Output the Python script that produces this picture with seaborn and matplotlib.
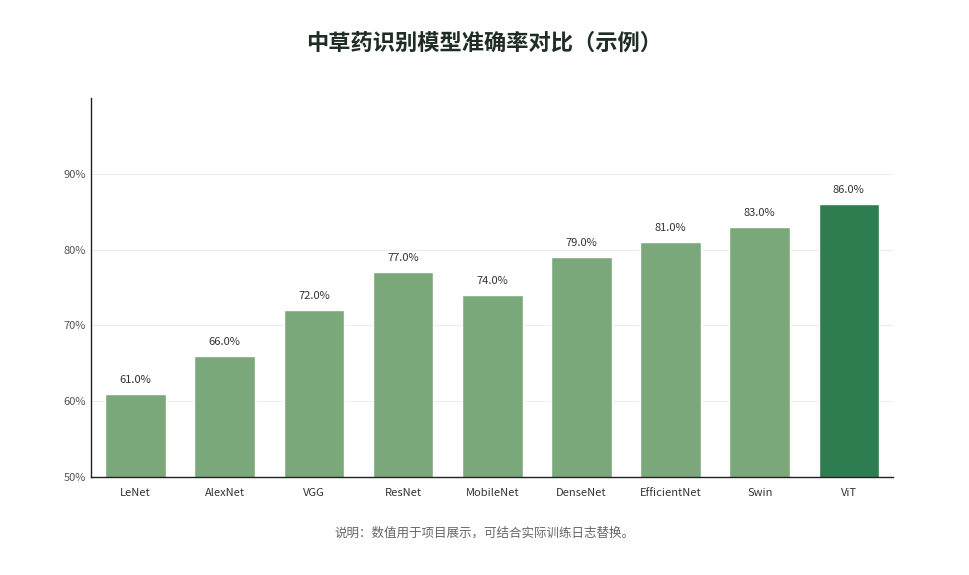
import matplotlib
matplotlib.use('Agg')
import pandas as pd
import seaborn as sns
from matplotlib import pyplot as plt

models = ['LeNet', 'AlexNet', 'VGG', 'ResNet', 'MobileNet', 'DenseNet',
          'EfficientNet', 'Swin', 'ViT']
accuracy = [61.0, 66.0, 72.0, 77.0, 74.0, 79.0, 81.0, 83.0, 86.0]
yticks = [50, 60, 70, 80, 90]

sns.set_style('white')
plt.rcParams['font.family'] = ['Noto Sans CJK SC', 'DejaVu Sans']

df = pd.DataFrame({'model': models, 'acc': accuracy})
colors = ['#7aa87a'] * (len(models) - 1) + ['#2e7d50']

fig = plt.figure(figsize=(9.69, 5.75), dpi=100)
ax = fig.add_axes([0.094, 0.170, 0.828, 0.660])
sns.barplot(data=df, x='model', y='acc', hue='model', palette=colors,
            legend=False, width=0.68, ax=ax, saturation=1)

ax.set_ylim(50, 100)
ax.set_yticks(yticks)
ax.set_yticklabels([f'{t}%' for t in yticks])
ax.yaxis.grid(True, color='#eeeeee', linewidth=0.8)
ax.set_axisbelow(True)
ax.set_xlabel('')
ax.set_ylabel('')
ax.tick_params(axis='both', labelsize=8, colors='#555555', length=0)
ax.tick_params(axis='x', colors='#333333', pad=8)
for s in ['top', 'right']:
    ax.spines[s].set_visible(False)
for s in ['left', 'bottom']:
    ax.spines[s].set_color('#222222')
    ax.spines[s].set_linewidth(1)

for i, v in enumerate(accuracy):
    ax.text(i, v + 1.2, f'{v:.1f}%', ha='center', va='bottom',
            fontsize=8, color='#333333')

fig.text(0.5, 0.925, '中草药识别模型准确率对比（示例）', ha='center',
         va='center', fontsize=16, fontweight='bold', color='#1f2d24')
fig.text(0.5, 0.073, '说明：数值用于项目展示，可结合实际训练日志替换。',
         ha='center', va='center', fontsize=9, color='#666666')

fig.savefig('out.png', dpi=100)
